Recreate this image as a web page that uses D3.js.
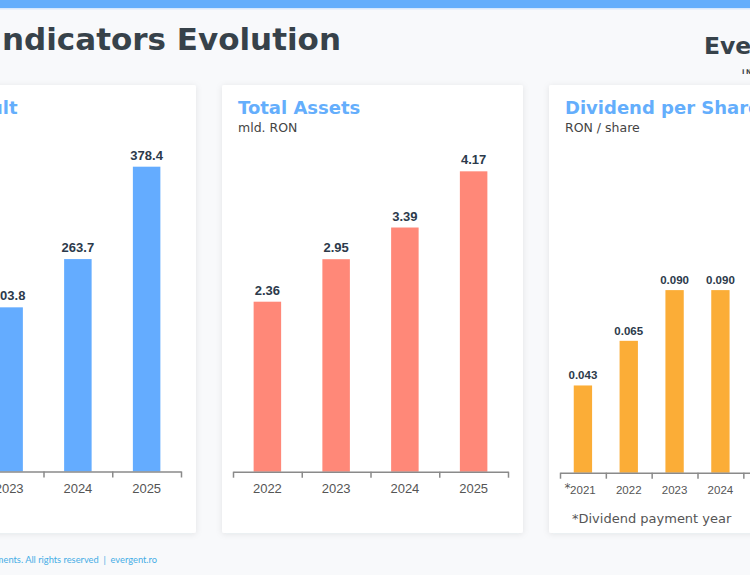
<!DOCTYPE html>
<html>
<head>
<meta charset="utf-8">
<script src="https://cdn.jsdelivr.net/npm/d3@7"></script>
<style>
  html, body { margin: 0; padding: 0; background: #f8f9fb; overflow: hidden; }
  svg { display: block; }
</style>
</head>
<body>
<script>
(function() {
  // data (2022 net result and the 2025/2026 dividends sit outside the crop, estimated)
  var netResultYears = ['2022', '2023', '2024', '2025'];
  var netResultValues = [86.6, 203.8, 263.7, 378.4];

  var assetYears = ['2022', '2023', '2024', '2025'];
  var assetValues = [2.36, 2.95, 3.39, 4.17];

  var dividendYears = ['2021', '2022', '2023', '2024', '2025', '2026'];
  var dividendValues = [0.043, 0.065, 0.090, 0.090, 0.100, 0.110];

  var width = 750, height = 575;
  var ink = '#37424a';

  var svg = d3.select('body').append('svg')
    .attr('width', width)
    .attr('height', height);

  var defs = svg.append('defs');
  var shadow = defs.append('filter').attr('id', 'card-shadow')
    .attr('x', '-10%').attr('y', '-10%').attr('width', '120%').attr('height', '120%');
  shadow.append('feDropShadow')
    .attr('dx', 0).attr('dy', 1).attr('stdDeviation', 3)
    .attr('flood-color', '#1f2d3d').attr('flood-opacity', 0.09);

  svg.append('rect').attr('width', width).attr('height', height).attr('fill', '#f8f9fb');
  svg.append('rect').attr('width', width).attr('height', 9.5).attr('fill', '#d6e8fd');
  svg.append('rect').attr('width', width).attr('height', 8).attr('fill', '#64aefc');

  svg.append('text')
    .attr('x', 341).attr('y', 50)
    .attr('text-anchor', 'end')
    .style('font-family', 'DejaVu Sans')
    .style('font-weight', 'bold')
    .style('font-size', '31px')
    .attr('fill', ink)
    .text('Key Indicators Evolution');

  svg.append('text')
    .attr('x', 704).attr('y', 54)
    .style('font-family', 'DejaVu Sans')
    .style('font-weight', 'bold')
    .style('font-size', '23.5px')
    .attr('fill', ink)
    .text('Evergent');
  svg.append('text')
    .attr('x', 742).attr('y', 73.5)
    .style('font-family', 'DejaVu Sans')
    .style('font-weight', 'bold')
    .style('font-size', '6.5px')
    .style('letter-spacing', '1.5px')
    .attr('fill', ink)
    .text('INVESTMENTS');

  svg.append('text')
    .attr('x', 157).attr('y', 563)
    .attr('text-anchor', 'end')
    .style('font-family', 'Lato')
    .style('font-size', '9.3px')
    .attr('fill', '#45ade6')
    .attr('xml:space', 'preserve')
    .text('\u00A9 2025 Evergent Investments. All rights reserved  |  evergent.ro');

  var panels = [
    {left: -105, title: 'Net Result', unit: 'mil. RON', years: netResultYears, values: netResultValues,
      color: '#64acff', yMax: 410.3, fmt: '.1f', valueSize: 13, tickSize: 13, base: 471.5},
    {left: 222, title: 'Total Assets', unit: 'mld. RON', years: assetYears, values: assetValues,
      color: '#ff8878', yMax: 4.591, fmt: '.2f', valueSize: 13, tickSize: 13, base: 471.7},
    {left: 549, title: 'Dividend per Share', unit: 'RON / share', years: dividendYears, values: dividendValues,
      color: '#fbad37', yMax: 0.1635, fmt: '.3f', valueSize: 11.5, tickSize: 11.5, base: 472.7,
      note: '*Dividend payment year'}
  ];

  var cardW = 301, cardTop = 85, cardH = 448;

  function drawPanel(p) {
    var g = svg.append('g').attr('transform', 'translate(' + p.left + ',0)');

    g.append('rect')
      .attr('x', 0).attr('y', cardTop)
      .attr('width', cardW).attr('height', cardH)
      .attr('rx', 2)
      .attr('fill', '#fff')
      .attr('filter', 'url(#card-shadow)');

    g.append('text')
      .attr('x', 16).attr('y', 114)
      .style('font-family', 'DejaVu Sans')
      .style('font-weight', 'bold')
      .style('font-size', '18px')
      .attr('fill', '#64aefc')
      .text(p.title);
    g.append('text')
      .attr('x', 16).attr('y', 131.5)
      .style('font-family', 'DejaVu Sans')
      .style('font-size', '12.5px')
      .attr('fill', '#444')
      .text(p.unit);

    var x = d3.scaleBand()
      .domain(p.years)
      .range([11, 286])
      .paddingInner(0.6)
      .paddingOuter(0.3);
    var edges = d3.scaleLinear().domain([0, p.years.length]).range([11, 286]);
    var y = d3.scaleLinear().domain([0, p.yMax]).range([p.base, 141]);

    g.selectAll('.bar')
      .data(p.values)
      .enter().append('rect')
      .attr('class', 'bar')
      .attr('x', function(d, i) { return x(p.years[i]); })
      .attr('y', function(d) { return y(d); })
      .attr('width', x.bandwidth())
      .attr('height', function(d) { return y(0) - y(d); })
      .attr('fill', p.color);

    g.selectAll('.value')
      .data(p.values)
      .enter().append('text')
      .attr('class', 'value')
      .attr('x', function(d, i) { return x(p.years[i]) + x.bandwidth() / 2; })
      .attr('y', function(d) { return y(d) - (p.valueSize > 12 ? 7 : 6); })
      .attr('text-anchor', 'middle')
      .style('font-family', 'Liberation Sans')
      .style('font-weight', 'bold')
      .style('font-size', p.valueSize + 'px')
      .attr('fill', '#2c3a4b')
      .text(function(d) { return d3.format(p.fmt)(d); });

    var tickAxis = g.append('g')
      .attr('transform', 'translate(0,' + p.base + ')')
      .call(d3.axisBottom(edges)
        .tickValues(d3.range(p.years.length + 1))
        .tickFormat('')
        .tickSize(6)
        .tickSizeOuter(0));
    tickAxis.selectAll('path, line').attr('stroke', '#8a8a8a').attr('stroke-width', 1.5);

    var labelAxis = g.append('g')
      .attr('transform', 'translate(0,' + p.base + ')')
      .call(d3.axisBottom(x).tickSize(0));
    labelAxis.select('.domain').remove();
    labelAxis.selectAll('text')
      .attr('dy', null)
      .attr('y', 21.5)
      .style('font-family', 'Liberation Sans')
      .style('font-size', p.tickSize + 'px')
      .attr('fill', '#555');

    if(p.note) {
      var first = p.years[0];
      g.append('text')
        .attr('x', x(first) + x.bandwidth() / 2 - 12.5).attr('y', 492)
        .attr('text-anchor', 'end')
        .style('font-family', 'DejaVu Sans')
        .style('font-size', '12px')
        .attr('fill', '#555')
        .text('*');
      g.append('text')
        .attr('x', 23).attr('y', 522.5)
        .style('font-family', 'DejaVu Sans')
        .style('font-size', '13px')
        .attr('fill', '#555')
        .text(p.note);
    }
  }

  panels.forEach(function(p) { drawPanel(p); });
})();
</script>
</body>
</html>
